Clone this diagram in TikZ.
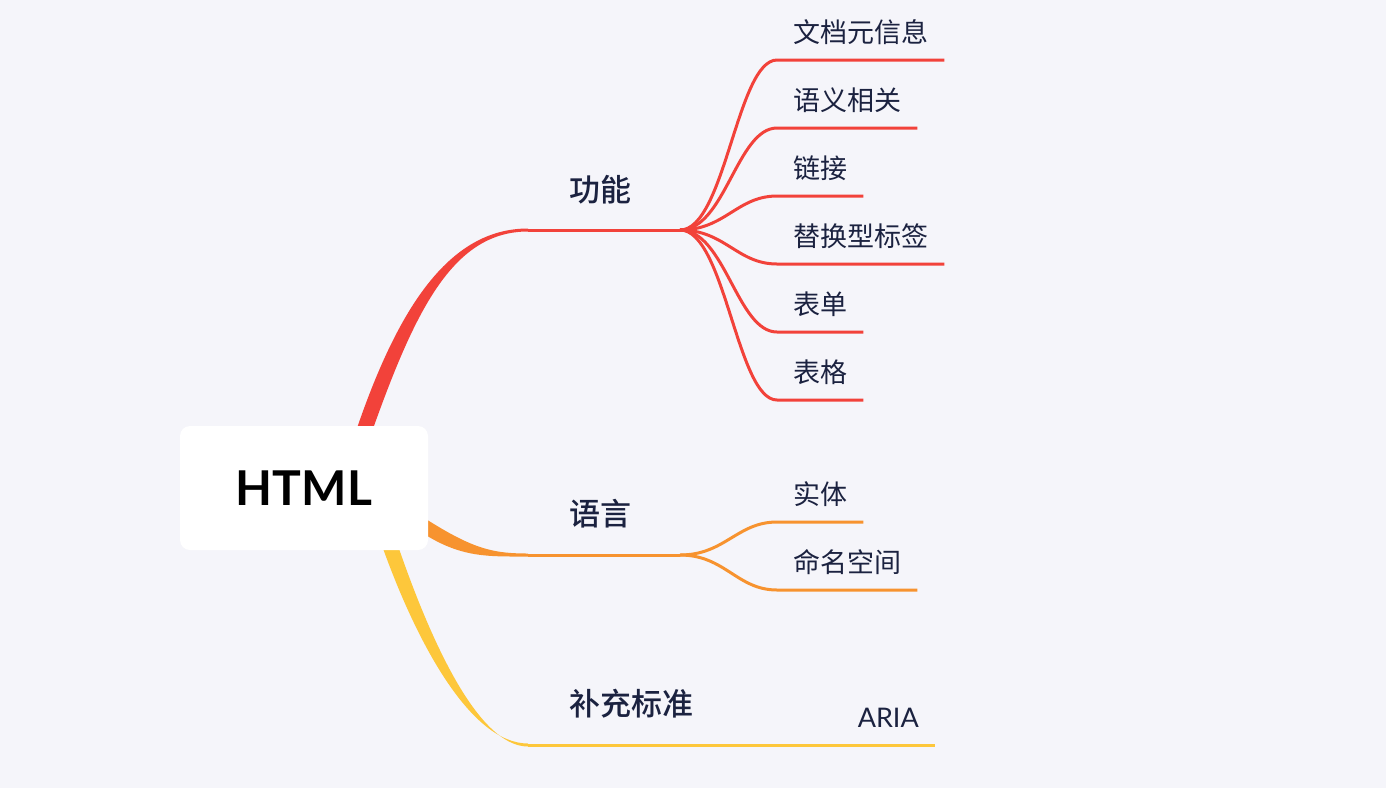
\documentclass[tikz,border=0pt]{standalone}
\usepackage{fontspec}
\setmainfont{Noto Sans CJK SC}
\newfontfamily\medfont{Noto Sans CJK SC Medium}
\newfontfamily\latinfont{Lato}
\definecolor{bgcol}{HTML}{F5F5FA}
\definecolor{redbr}{HTML}{F2423A}
\definecolor{orangebr}{HTML}{F7932F}
\definecolor{yellowbr}{HTML}{FDC73B}
\definecolor{inkcol}{HTML}{1B2240}
\tikzset{
  root/.style={fill=white, rounded corners=10pt, minimum width=248pt, minimum height=124pt,
    font=\latinfont\bfseries\fontsize{48}{52}\selectfont, text=black},
  mainlabel/.style={anchor=base west, inner sep=0pt, text=inkcol,
    font=\medfont\fontsize{31}{34}\selectfont},
  leaf/.style={anchor=south west, inner xsep=16pt, inner ysep=17pt, text depth=0pt,
    text=inkcol, font=\fontsize{27}{30}\selectfont},
  sub/.style={line width=3pt},
}
\begin{document}
\begin{tikzpicture}[x=1pt,y=-1pt]
\fill[bgcol] (0,0) rectangle (1386,788);
\useasboundingbox (0,0) rectangle (1386,788);
% junctions
\coordinate (gn) at (680,230);
\coordinate (yy) at (680,555);
% tapered main branches
\fill[redbr] (353,440) .. controls (396,310) and (448,228.5) .. (528,228.5)
  -- (528,231.5) .. controls (452,231.5) and (414,312) .. (369,440) -- cycle;
\fill[orangebr] (415,512) .. controls (470,548) and (490,553.5) .. (528,553.5)
  -- (528,556.5) .. controls (485,556.5) and (458,558) .. (415,528) -- cycle;
\fill[yellowbr] (380,540) .. controls (415,640) and (470,743.5) .. (528,743.5)
  -- (528,746.5) .. controls (478,746.5) and (430,640) .. (396,540) -- cycle;
\node[root] (html) at (304,488) {HTML};
% branch labels
\node[mainlabel] (gongneng) at (569,201) {功能};
\node[mainlabel] (yuyan) at (569,525) {语言};
\node[mainlabel] (buchong) at (569,715) {补充标准};
% leaves
\node[leaf] (l1) at (777,60) {文档元信息};
\node[leaf] (l2) at (777,128) {语义相关};
\node[leaf] (l3) at (777,196) {链接};
\node[leaf] (l4) at (777,264) {替换型标签};
\node[leaf] (l5) at (777,332) {表单};
\node[leaf] (l6) at (777,400) {表格};
\node[leaf] (l7) at (777,522) {实体};
\node[leaf] (l8) at (777,590) {命名空间};
\node[leaf, anchor=south east, font=\latinfont\fontsize{27}{30}\selectfont] (aria) at (935,745) {ARIA};
% connectors
\draw[sub, redbr] (528,230) -- (gn);
\draw[sub, orangebr] (528,555) -- (yy);
\draw[sub, yellowbr] (528,745) -- (aria.south east);
\foreach \n in {l1,l2,l3,l4,l5,l6}
  \draw[sub, redbr] (gn) .. controls +(45,0) and +(-40,0) .. (\n.south west) -- (\n.south east);
\foreach \n in {l7,l8}
  \draw[sub, orangebr] (yy) .. controls +(45,0) and +(-40,0) .. (\n.south west) -- (\n.south east);
\end{tikzpicture}
\end{document}
